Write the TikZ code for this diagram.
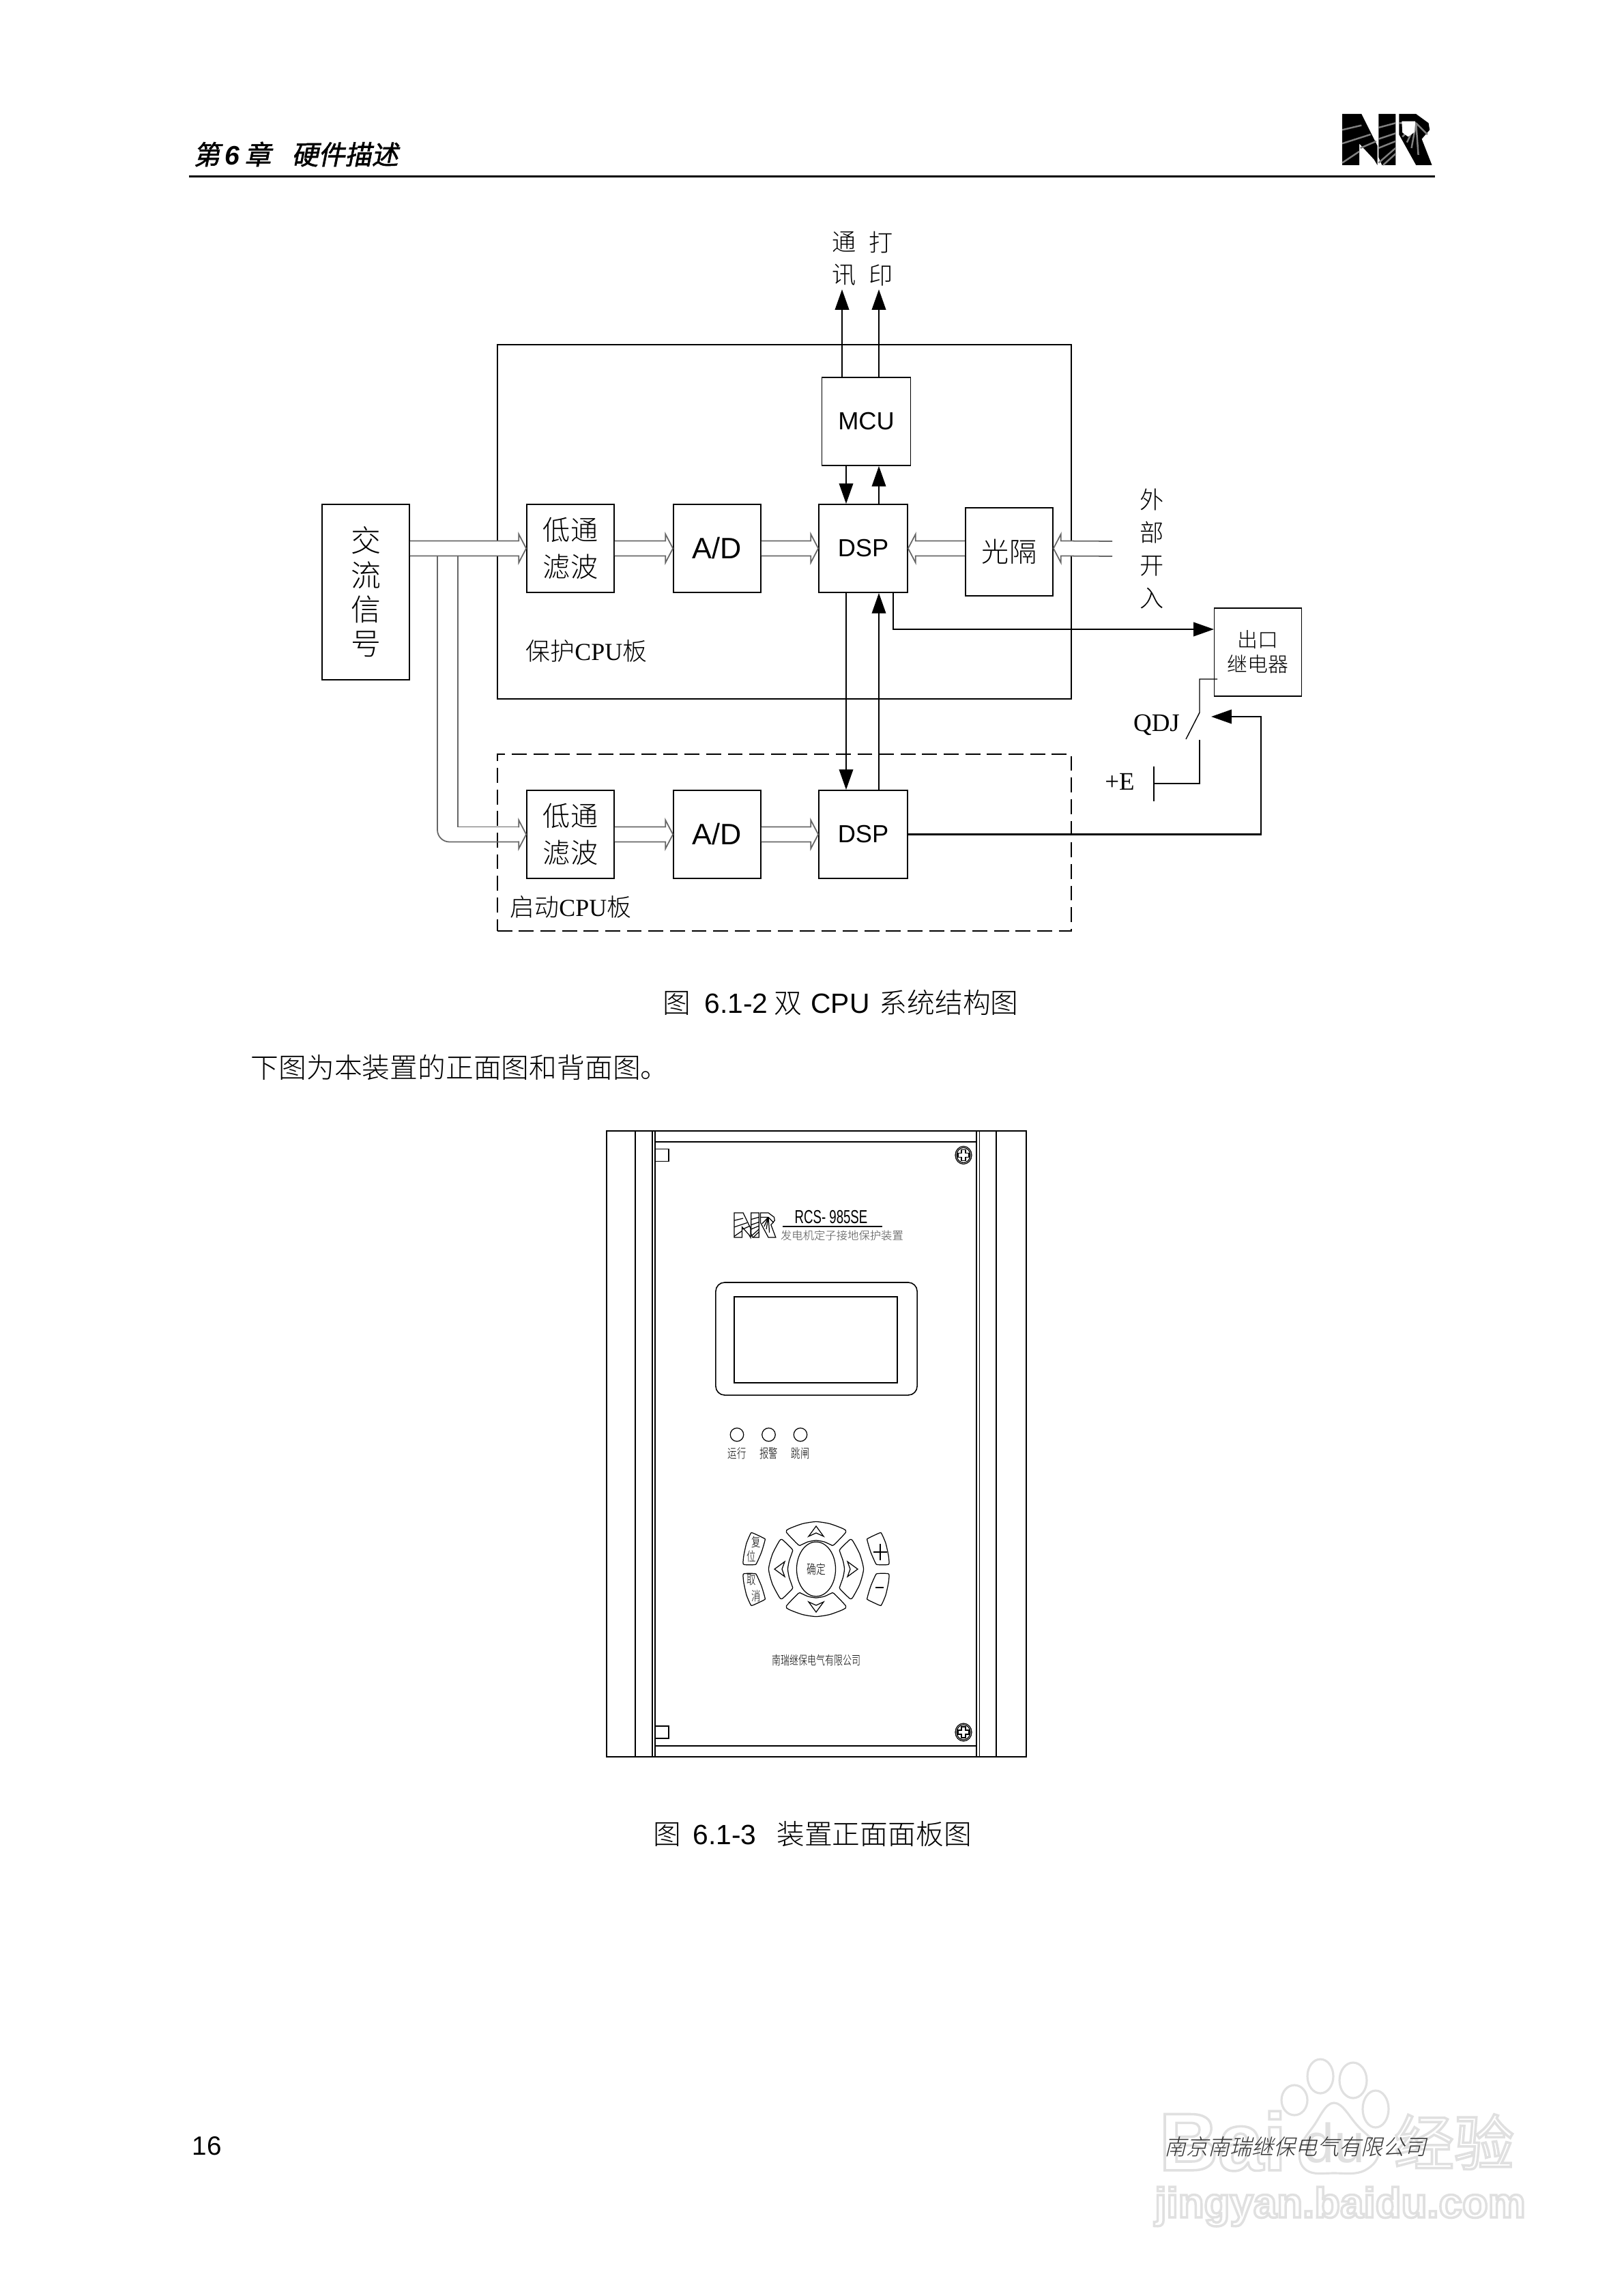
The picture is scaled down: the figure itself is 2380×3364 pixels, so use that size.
\documentclass[tikz,border=0pt]{standalone}
\usepackage{fontspec}
\usepackage{tikz}
\usetikzlibrary{arrows.meta,calc}
\setmainfont{Noto Sans CJK SC Light}
\newfontfamily\arial{Liberation Sans}
\newfontfamily\serifl{Liberation Serif}
\newfontfamily\headfont[FakeBold=1.5,FakeSlant=0.2]{Noto Sans CJK SC}
\newfontfamily\slantfont[FakeSlant=0.25]{Noto Sans CJK SC Light}
\newfontfamily\wmthin{Liberation Sans Bold}
\newfontfamily\wmcjk{Noto Sans CJK SC}
\definecolor{wmgray}{gray}{0.88}
\definecolor{busgray}{gray}{0.4}
% hollow bus arrow: from, to, direction (1 right, -1 left)
\newcommand{\busarrow}[3]{\draw[busline] ($(#1)+(0,-11)$) -- ($(#2)+(-11*#3,-11)$) -- ($(#2)+(-11*#3,-21)$) -- (#2) -- ($(#2)+(-11*#3,21)$) -- ($(#2)+(-11*#3,11)$) -- ($(#1)+(0,11)$);}
% stroked letters for the watermark
\newcommand{\hollow}[1]{\special{pdf:code 1 Tr 1 w 0.88 G}#1\special{pdf:code 0 Tr}}
\tikzset{
  busline/.style={draw=busgray,fill=white,line width=.5pt},
  blockbox/.style={draw,line width=.45pt,inner sep=0pt,minimum width=1.28cm,minimum height=1.29cm,align=center},
  filter/.style={font=\fontsize{11.4}{15.2}\selectfont},
  chip/.style={font=\arial\fontsize{10.3}{12}\selectfont},
  adc/.style={font=\arial\fontsize{12.3}{14}\selectfont},
  tag/.style={inner sep=0pt,align=center},
  vtext/.style={tag,font=\fontsize{10}{13.6}\selectfont},
  body/.style={tag,anchor=west,font=\fontsize{11.6}{14}\selectfont},
  tiny/.style={tag,font=\fontsize{3.8}{5}\selectfont,yscale=1.4},
  key/.style={draw,line width=.35pt,fill=white,line join=round},
  wire/.style={line width=.7pt},
  wmline/.style={draw=wmgray,line width=.9pt,fill=white},
  nrlogo/.pic={
    \path[pic actions] (0,0) -- (85,0) -- (155,140) -- (155,225) -- (140,200) -- (75,130) -- (75,225) -- (0,225) -- cycle;
    \path[pic actions] (160,0) -- (235,0) -- (235,225) -- (175,225) -- (160,190) -- cycle;
    \path[pic actions] (250,0) -- (325,0) -- (380,40) -- (385,70) -- (350,110) -- (395,225) -- (325,225) -- (250,90) -- cycle;
    \draw[logostripe] (0,70) -- (85,50) (0,130) -- (125,90) (0,215) -- (75,165) (80,150) -- (150,120);
    \draw[logostripe] (160,60) -- (235,40) (160,110) -- (235,85) (160,150) -- (235,120) (160,215) -- (235,150) (180,225) -- (235,175);
    \draw[logostripe] (325,40) -- (265,100) (325,40) -- (285,125) (325,40) -- (305,150) (325,40) -- (335,180) (325,40) -- (375,90) (325,40) -- (250,40);
    \path[logowindow] (262,32) -- (322,32) -- (318,80) -- (290,100) -- (265,82) -- cycle;
  }
}
\begin{document}
\begin{tikzpicture}[x=0.01cm,y=-0.01cm,>={Triangle[length=8.5pt,width=5.8pt]}]
\useasboundingbox (0,0) rectangle (2380,3364);
\fill[white] (0,0) rectangle (2380,3364);
% watermark
\node[tag,font=\wmthin\fontsize{34}{36}\selectfont] (wmb) at (1792,3137) {\hollow{Bai}};
\draw[wmline] (1897,3077) ellipse (19 and 22);
\draw[wmline] (1935,3042) ellipse (19 and 25);
\draw[wmline] (1983,3048) ellipse (20 and 26);
\draw[wmline] (2016,3090) ellipse (19 and 27);
\draw[wmline] plot[smooth cycle,tension=.7] coordinates {(1955,3081) (1990,3115) (2020,3150) (2000,3180) (1955,3184) (1915,3180) (1905,3150) (1925,3115)};
\node[tag,text=wmgray,font=\arial\fontsize{23}{25}\selectfont] (wmc) at (1955,3140) {du};
\node[tag,font=\wmcjk\fontsize{25}{27}\selectfont] (wme) at (2131,3138) {\hollow{经验}};
\node[tag,font=\wmthin\fontsize{17.6}{21}\selectfont] (wmg) at (1964,3233) {\hollow{jingyan.baidu.com}};
% page header and footer
\node[body,font=\headfont\fontsize{11.1}{13}\selectfont] (head) at (283,226) {第\hspace{2pt}{\arial\bfseries\itshape 6}\hspace{2pt}章\hspace{3mm}硬件描述};
\pic[xscale=.333,yscale=.333,fill=black,logostripe/.style={gray,line width=.7pt},logowindow/.style={fill=white}] at (1967,167) {nrlogo};
\draw[line width=.85pt] (277,258.5) -- (2103,258.5);
\node[body,font=\arial\fontsize{11}{13}\selectfont] (pageno) at (281,3144) {16};
\node[tag,anchor=west,text=black!80,font=\slantfont\fontsize{9.1}{11}\selectfont] (firm) at (1706,3145) {南京南瑞继保电气有限公司};
% boards
\node[draw,line width=.7pt,inner sep=0pt,minimum width=8.41cm,minimum height=5.19cm] (prot) at (1149.5,764.5) {};
\node[draw,line width=.7pt,dash pattern=on 6.2pt off 2.8pt,inner sep=0pt,minimum width=8.41cm,minimum height=2.59cm] (boot) at (1149.5,1234.5) {};
\node[body,font=\fontsize{10.2}{12}\selectfont] (protlab) at (770,954) {保护{\serifl CPU}板};
\node[body,font=\fontsize{10.2}{12}\selectfont] (bootlab) at (747,1329) {启动{\serifl CPU}板};
% blocks
\node[blockbox,minimum height=2.57cm,font=\fontsize{12.5}{14.3}\selectfont] (sig) at (536,867.5) {交\\流\\信\\号};
\node[blockbox,filter] (lp1) at (836,803.5) {低通\\滤波};
\node[blockbox,adc] (ad1) at (1051,803.5) {A/D};
\node[blockbox,chip,minimum width=1.3cm] (dsp1) at (1265,803.5) {DSP};
\node[blockbox,chip,minimum width=1.3cm] (mcu) at (1269.5,617.5) {MCU};
\node[blockbox,filter] (opto) at (1479,808.5) {光隔};
\node[blockbox,filter] (lp2) at (836,1222.5) {低通\\滤波};
\node[blockbox,adc] (ad2) at (1051,1222.5) {A/D};
\node[blockbox,chip,minimum width=1.3cm] (dsp2) at (1265,1222.5) {DSP};
\node[blockbox,font=\fontsize{8.5}{10.3}\selectfont] (relay) at (1843.5,955.5) {出口\\继电器};
% bus arrows
\coordinate (ext) at (1630,804);
\coordinate (lpb) at (761,1222.5);
\draw[busline,fill=none] (671,814.5) -- (671,1211.5) -- (lpb |- 0,1211.5);
\draw[busline,fill=none,rounded corners=5pt] (641,814.5) -- (641,1233.5) -- (lpb |- 0,1233.5);
\busarrow{sig.east |- lp1.west}{lp1.west}{1}
\busarrow{lp1.east}{ad1.west}{1}
\busarrow{ad1.east}{dsp1.west}{1}
\busarrow{opto.west |- dsp1.east}{dsp1.east}{-1}
\busarrow{ext}{opto.east |- dsp1.east}{-1}
\busarrow{lpb}{lp2.west}{1}
\busarrow{lp2.east}{ad2.west}{1}
\busarrow{ad2.east}{dsp2.west}{1}
% data lines
\coordinate (comm) at (1234,424);
\coordinate (prn) at (1288,424);
\coordinate (busa) at (1240,0);
\coordinate (relayin) at (1779,922);
\coordinate (relayout) at (1309,869);
\coordinate (qdjin) at (1775,1050);
\coordinate (qdjturn) at (1848,1050);
\draw[wire,->] (comm |- mcu.north) -- (comm);
\draw[wire,->] (prn |- mcu.north) -- (prn);
\draw[wire,->] (busa |- mcu.south) -- (busa |- dsp1.north);
\draw[wire,->] (prn |- dsp1.north) -- (prn |- mcu.south);
\draw[wire,->] (busa |- dsp1.south) -- (busa |- dsp2.north);
\draw[wire,->] (prn |- dsp2.north) -- (prn |- dsp1.south);
\draw[wire,->] (relayout) |- (relayin);
\draw[wire,->] (dsp2.east) -| (qdjturn) -- (qdjin);
% contact and supply
\coordinate (ca) at (1784,995);
\coordinate (cb) at (1758,1044);
\coordinate (cc) at (1738,1083);
\coordinate (cd) at (1758,1084);
\coordinate (ce) at (1691,1148);
\draw[line width=.4pt] (ca) -| (cb) -- (cc);
\draw[line width=.4pt] (cd) |- (ce);
\draw[line width=.4pt] (ce |- 0,1123) -- (ce |- 0,1174);
\node[tag,font=\serifl\fontsize{10.5}{12}\selectfont] (qdj) at (1695,1062) {QDJ};
\node[tag,font=\serifl\fontsize{10.5}{12}\selectfont] (plus) at (1641,1145) {+E};
% labels
\node[vtext] (tcomm) at (1237,379) {通\\讯};
\node[vtext] (tprn) at (1291,379) {打\\印};
\node[vtext] (tin) at (1688,804) {外\\部\\开\\入};
% captions
\node[body,font=\fontsize{11.6}{14}\selectfont] (cap1) at (971,1469) {图\hspace{5.7pt}{\arial 6.1-2}\hspace{2.6pt}双\hspace{3.7pt}{\arial CPU}\hspace{4pt}系统结构图};
\node[body] (para) at (367,1564) {下图为本装置的正面图和背面图。};
\node[body] (cap2) at (957,2687) {图\hspace{4.8pt}{\arial 6.1-3}\hspace{8.5pt}装置正面面板图};
% front panel
\draw[line width=.6pt] (889,1657) rectangle (1504,2574);
\foreach \x in {931,956,960,1431,1435.5,1460} \draw[line width=.4pt] (\x,1657) -- (\x,2574);
\draw[line width=.55pt] (960,1673) -- (1431,1673);
\draw[line width=.55pt] (960,2558) -- (1431,2558);
\foreach \y in {1692.5,2538} {
  \draw[line width=.35pt] (960,\y-9) rectangle (980,\y+9);
  \draw[line width=.35pt] (1412,\y) ellipse (12 and 13);
  \draw[line width=.35pt] (1412,\y) ellipse (10 and 11);
  \draw[line width=.45pt] (1409,\y-8) -- (1415,\y-8) -- (1415,\y-3) -- (1420,\y-3) -- (1420,\y+3) -- (1415,\y+3) -- (1415,\y+8) -- (1409,\y+8) -- (1409,\y+3) -- (1404,\y+3) -- (1404,\y-3) -- (1409,\y-3) -- cycle;
}
\pic[xscale=.154,yscale=.16,fill=white,draw=black,line width=.35pt,logostripe/.style={black,line width=.35pt},logowindow/.style={}] at (1076,1777) {nrlogo};
\node[tag,xscale=.68,font=\arial\fontsize{7.8}{9}\selectfont] (model) at (1218,1783) {RCS- 985SE};
\coordinate (ula) at (1147,1797);
\coordinate (ulb) at (1293,1797);
\draw[line width=.35pt] (ula) -- (ulb);
\node[tag,text=black!70,font=\fontsize{4.65}{6}\selectfont] (devname) at (1234,1810) {发电机定子接地保护装置};
\node[draw,line width=.45pt,rounded corners=.13cm,inner sep=0pt,minimum width=2.95cm,minimum height=1.65cm] (lcd) at (1196.5,1961.5) {};
\node[draw,line width=.55pt,inner sep=0pt,minimum width=2.395cm,minimum height=1.26cm] (screen) at (1195.5,1963) {};
\foreach \x/\lab/\n in {1080/运行/a,1126.5/报警/b,1173/跳闸/c} {
  \node[draw,circle,line width=.35pt,inner sep=0pt,minimum size=.195cm] (led\n) at (\x,2102) {};
  \node[tiny] (ledt\n) at (\x,2129) {\lab};
}
% keypad
\begin{scope}[shift={(1196,2299)},yscale=-1]
\node[draw,circle,line width=.35pt,inner sep=0pt,minimum size=.57cm,font=\fontsize{3.9}{5}\selectfont,yscale=1.4] (ok) at (0,0) {确定};
\foreach \s in {1,-1} {
  \begin{scope}[yscale=\s]
  \draw[key] plot[smooth cycle,tension=.4] coordinates {(-43.5,54) (-40,59) (-20,66.5) (0,69.5) (20,66.5) (40,59) (43.5,54) (26,35.5) (22,35.5) (12,40) (0,42) (-12,40) (-22,35.5) (-26,35.5)};
  \draw[line width=.35pt] (0,63) -- (-11,48) -- (0,53) -- (11,48) -- cycle;
  \end{scope}
  \begin{scope}[xscale=\s]
  \draw[key] plot[smooth cycle,tension=.4] coordinates {(-54,41) (-51,43.5) (-48,42) (-35,29) (-35,25) (-39.5,12) (-41.5,0) (-39.5,-12) (-35,-25) (-35,-29) (-48,-42) (-51,-43.5) (-54,-41) (-64,-22) (-69.5,0) (-64,22)};
  \draw[line width=.35pt] (-61,0) -- (-46,11) -- (-50,0) -- (-46,-11) -- cycle;
  \end{scope}
  \begin{scope}[xscale=\s]
  \draw[key] plot[smooth cycle,tension=.4] coordinates {(-96,52) (-93,53) (-76,45) (-75,42) (-80,25) (-87,9) (-90,6.5) (-105,6.5) (-107,9) (-106,20) (-102,38)};
  \draw[key] plot[smooth cycle,tension=.4] coordinates {(-96,-52) (-93,-53) (-76,-45) (-75,-42) (-80,-25) (-87,-9) (-90,-6.5) (-105,-6.5) (-107,-9) (-106,-20) (-102,-38)};
  \end{scope}
}
\node[tiny] (keya) at (-88,40) {复};
\node[tiny] (keyb) at (-95,19) {位};
\node[tiny] (keyc) at (-95,-16) {取};
\node[tiny] (keyd) at (-88,-39) {消};
\draw[line width=.3pt] (94,13) -- (94,37) (84,25) -- (104,25);
\draw[line width=.3pt] (87,-27) -- (99,-27);
\end{scope}
\node[tag,font=\fontsize{3.7}{5}\selectfont,yscale=1.4] (maker) at (1196.5,2433) {南瑞继保电气有限公司};
\end{tikzpicture}
\end{document}
